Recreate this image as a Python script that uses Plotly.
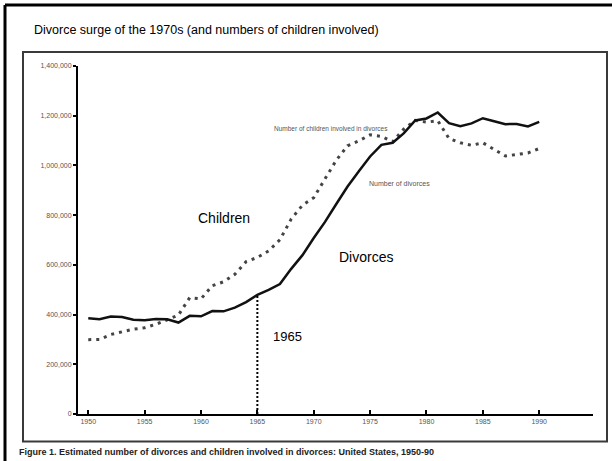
import plotly.graph_objects as go

years = list(range(1950, 1991))
divorces = [385000, 381000, 392000, 390000, 379000, 377000, 382000, 381000, 368000, 395000,
            393000, 414000, 413000, 428000, 450000, 479000, 499000, 523000, 584000, 639000,
            708000, 773000, 845000, 915000, 977000, 1036000, 1083000, 1091000, 1130000, 1181000,
            1189000, 1213000, 1170000, 1158000, 1169000, 1190000, 1178000, 1166000, 1167000, 1157000,
            1175000]
children = [299000, 300000, 320000, 330000, 341000, 347000, 361000, 379000, 398000, 468000,
            463000, 516000, 532000, 562000, 613000, 630000, 656000, 701000, 784000, 840000,
            870000, 946000, 1021000, 1079000, 1099000, 1123000, 1117000, 1095000, 1147000, 1181000,
            1174000, 1180000, 1108000, 1091000, 1081000, 1091000, 1064000, 1038000, 1044000, 1050000,
            1068000]

x_ticks = [1950, 1955, 1960, 1965, 1970, 1975, 1980, 1985, 1990]
y_ticks = [0, 200000, 400000, 600000, 800000, 1000000, 1200000, 1400000]
marker_year = 1965
marker_value = divorces[years.index(marker_year)]

FONT = "Liberation Sans, Arial, sans-serif"

fig = go.Figure()
fig.add_trace(go.Scatter(x=years, y=children, mode="lines",
                         line=dict(color="#444444", width=3, dash="3px,5px"),
                         showlegend=False, hoverinfo="skip"))
fig.add_trace(go.Scatter(x=years, y=divorces, mode="lines",
                         line=dict(color="#111111", width=2.5),
                         showlegend=False, hoverinfo="skip"))
fig.add_trace(go.Scatter(x=[marker_year, marker_year], y=[0, marker_value], mode="lines",
                         line=dict(color="#000000", width=2, dash="2px,2px"),
                         showlegend=False, hoverinfo="skip"))

# plot area in pixels: x 78..593, y 66..414
L, R, T, B = 78, 593, 66, 414
W, H = R - L, B - T
def px(x):
    return (x - L) / W
def py(y):
    return (B - y) / H

shapes = [
    # outer frame (left + top)
    dict(type="line", xref="paper", yref="paper", x0=px(5), x1=px(5), y0=py(5), y1=py(470),
         line=dict(color="#000", width=3)),
    dict(type="line", xref="paper", yref="paper", x0=px(5), x1=px(620), y0=py(5), y1=py(5),
         line=dict(color="#000", width=3)),
    # inner frame
    dict(type="rect", xref="paper", yref="paper", x0=px(23), x1=px(607), y0=py(52), y1=py(441.5),
         line=dict(color="#3a3a3a", width=2)),
]

annotations = [
    dict(text="Divorce surge of the 1970s (and numbers of children involved)",
         xref="paper", yref="paper", x=px(32), y=py(30), xanchor="left", yanchor="middle",
         showarrow=False, font=dict(family=FONT, size=12.5, color="#000")),
    dict(text="Children", x=1962.0, y=789000, showarrow=False,
         font=dict(family=FONT, size=14, color="#000")),
    dict(text="Divorces", x=1974.6, y=632000, showarrow=False,
         font=dict(family=FONT, size=14, color="#000")),
    dict(text="1965", x=1967.7, y=310000, showarrow=False,
         font=dict(family=FONT, size=13, color="#000")),
    dict(text="Number of children involved in divorces", x=1971.5, y=1147000, showarrow=False,
         font=dict(family=FONT, size=6.5, color="#555")),
    dict(text="Number of divorces", x=1977.6, y=929000, showarrow=False,
         font=dict(family=FONT, size=7, color="#555")),
    dict(text="<b>Figure 1. Estimated number of divorces and children involved in divorces: United States, 1950-90</b>",
         xref="paper", yref="paper", x=px(17), y=py(452), xanchor="left", yanchor="middle",
         showarrow=False, font=dict(family=FONT, size=9, color="#222")),
]

fig.update_layout(
    width=612, height=461,
    margin=dict(l=L, r=612 - R, t=T, b=461 - B, pad=0),
    paper_bgcolor="white", plot_bgcolor="white",
    shapes=shapes, annotations=annotations,
    xaxis=dict(range=[1949.09, 1994.77], tickvals=x_ticks, ticktext=[str(v) for v in x_ticks],
               showline=True, linecolor="#000", linewidth=2, showgrid=False, zeroline=False,
               ticks="inside", ticklen=4, tickwidth=1.5, tickcolor="#000",
               tickfont=dict(family=FONT, size=7, color="#555")),
    yaxis=dict(range=[0, 1400000], tickvals=y_ticks, tickformat=",d",
               showline=True, linecolor="#000", linewidth=2, showgrid=False, zeroline=False,
               ticks="outside", ticklen=3, tickwidth=1.5, tickcolor="#000",
               tickfont=dict(family=FONT, size=7, color="#555")),
    font=dict(family=FONT),
)

fig.write_html("out.html", config={"displayModeBar": False},
               post_script="document.body.style.margin='0px';document.body.style.overflow='hidden';")
